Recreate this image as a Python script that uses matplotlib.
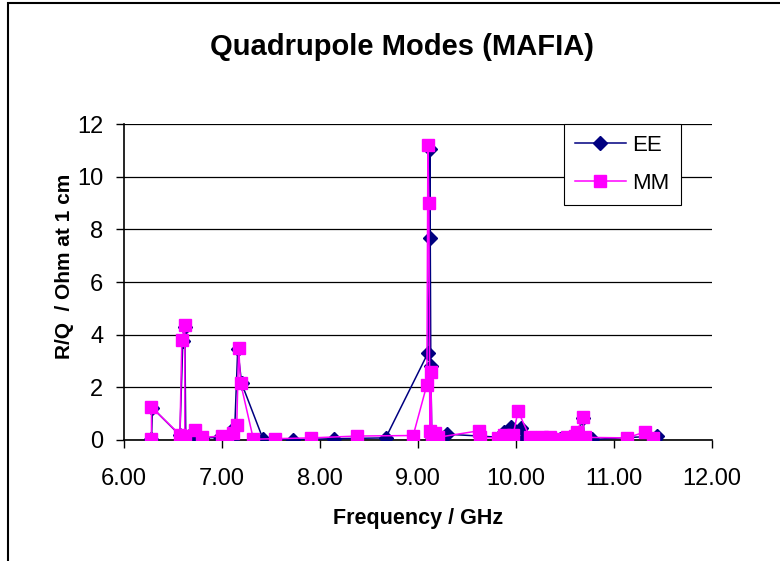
import matplotlib
matplotlib.use("Agg")
import matplotlib.pyplot as plt
from matplotlib.patches import Rectangle

# ========== 数据 ==========
ee_freq = [6.28, 6.29, 6.57, 6.60, 6.62, 6.63, 6.70, 6.75, 6.80, 6.98, 7.05, 7.10,
           7.13, 7.16, 7.20, 7.42, 7.72, 8.14, 8.67, 9.10, 9.12, 9.12, 9.13, 9.14,
           9.17, 9.30, 9.85, 9.88, 9.95, 9.98, 10.05, 10.10, 10.30, 10.45, 10.55,
           10.62, 10.68, 10.70, 10.77, 11.44, 11.42]
ee_rq = [0.02, 1.22, 0.18, 3.75, 4.30, 0.10, 0.30, 0.02, 0.08, 0.10, 0.05, 0.02,
         0.50, 3.45, 2.15, 0.02, 0.01, 0.05, 0.08, 3.30, 7.67, 11.05, 2.80, 0.10,
         0.02, 0.22, 0.10, 0.30, 0.50, 0.02, 0.45, 0.10, 0.05, 0.02, 0.05,
         0.05, 0.85, 0.02, 0.02, 0.15, 0.05]

mm_freq = [6.28, 6.28, 6.57, 6.59, 6.62, 6.62, 6.72, 6.80, 7.00, 7.05, 7.11, 7.15,
           7.17, 7.19, 7.32, 7.54, 7.91, 8.38, 8.95, 9.09, 9.10, 9.11, 9.12, 9.13,
           9.14, 9.17, 9.20, 9.62, 9.63, 9.82, 9.88, 9.97, 10.02, 10.14, 10.26,
           10.35, 10.45, 10.52, 10.60, 10.62, 10.68, 10.70, 11.13, 11.31, 11.40]
mm_rq = [0.02, 1.25, 0.20, 3.80, 4.37, 0.15, 0.38, 0.10, 0.15, 0.10, 0.25, 0.57,
         3.50, 2.15, 0.03, 0.05, 0.08, 0.15, 0.17, 2.10, 11.20, 9.00, 0.35, 2.60,
         0.20, 0.25, 0.10, 0.35, 0.10, 0.07, 0.20, 0.20, 1.10, 0.10, 0.10,
         0.10, 0.05, 0.10, 0.15, 0.30, 0.87, 0.10, 0.08, 0.30, 0.07]

x_ticks = [6, 7, 8, 9, 10, 11, 12]
y_ticks = [0, 2, 4, 6, 8, 10, 12]

plt.rcParams['font.family'] = ['Liberation Sans', 'DejaVu Sans']

fig = plt.figure(figsize=(7.8, 5.61), dpi=100)
ax = fig.add_axes([0.159, 0.2157, 0.754, 0.563])

ax.plot(ee_freq, ee_rq, color='#000080', marker='D', markersize=7,
        linewidth=1.1, label='EE', zorder=3)
ax.plot(mm_freq, mm_rq, color='#FF00FF', marker='s', markersize=8,
        linewidth=1.1, label='MM', zorder=4)

ax.set_xlim(6, 12)
ax.set_ylim(0, 12)
ax.set_xticks(x_ticks)
ax.set_xticklabels([f"{v:.2f}" for v in x_ticks])
ax.set_yticks(y_ticks)
ax.tick_params(labelsize=17, direction='out', length=6, width=1)
ax.tick_params(axis='x', pad=14)
ax.tick_params(axis='y', pad=9)
ax.grid(axis='y', color='black', linewidth=0.9)
ax.set_axisbelow(True)
for s in ['top', 'right']:
    ax.spines[s].set_visible(False)
ax.spines['left'].set_linewidth(1.2)
ax.spines['bottom'].set_linewidth(1.2)

ax.set_xlabel("Frequency / GHz", fontsize=15.5, fontweight='bold')
ax.set_ylabel("R/Q  / Ohm at 1 cm", fontsize=15, fontweight='bold')
ax.xaxis.set_label_coords(0.5, -0.215)
ax.yaxis.set_label_coords(-0.085, 0.55)
fig.text(0.515, 0.916, "Quadrupole Modes (MAFIA)", ha='center', va='center',
         fontsize=21, fontweight='bold')

leg = ax.legend(loc='upper right', bbox_to_anchor=(0.947, 1.0), fontsize=16,
                frameon=True, fancybox=False, edgecolor='black', framealpha=1,
                handlelength=2.3, handletextpad=0.3, borderpad=0.5,
                labelspacing=0.75, borderaxespad=0)
leg.get_frame().set_linewidth(0.8)

# 外框
fig.patches.append(Rectangle((8 / 780, -0.1), 1.1, 1.1 - 3 / 561,
                             transform=fig.transFigure, fill=False,
                             edgecolor='black', linewidth=1.5))

fig.savefig("out.png", dpi=100)
